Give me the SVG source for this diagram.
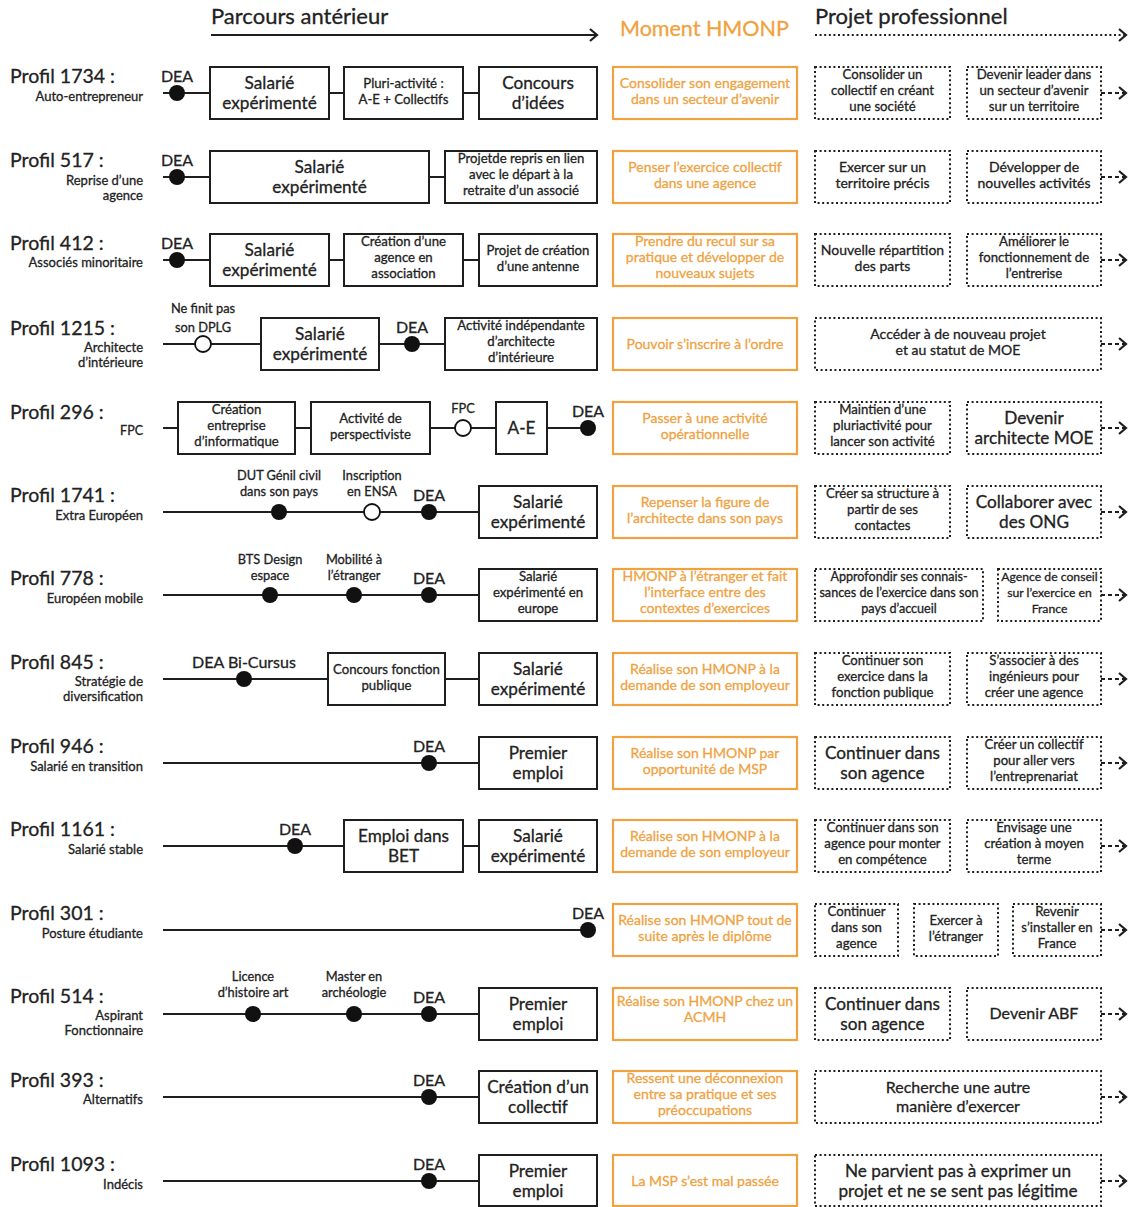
<svg xmlns="http://www.w3.org/2000/svg" width="1132" height="1207" viewBox="0 0 1132 1207">
<style>
text{font-family:Lato,'Liberation Sans',Arial,sans-serif;fill:#222;stroke:#222;stroke-width:0.3}
.hd{font-size:22px}
.hm{font-size:21.5px;fill:#EFA23F;stroke:#EFA23F}
.pl{font-size:19.5px}
.sb{font-size:13px;text-anchor:end}
.b17{font-size:17.2px;text-anchor:middle}
.b13{font-size:13.2px;text-anchor:middle}
.b14{font-size:14px;text-anchor:middle}
.b16{font-size:16px;text-anchor:middle}
.o14{font-size:14px;text-anchor:middle;fill:#EFA23F;stroke:#EFA23F}
.lb{font-size:12.8px;text-anchor:middle}
.dea{font-size:16px;text-anchor:middle}
.box{fill:#fff;stroke:#1e1e1e;stroke-width:2}
.obox{fill:#fff;stroke:#EFA23F;stroke-width:2.2}
.dbox{fill:none;stroke:#1e1e1e;stroke-width:2;stroke-dasharray:2 2.6}
.ln{stroke:#1e1e1e;stroke-width:2;fill:none}
.dl{stroke:#1e1e1e;stroke-width:2;stroke-dasharray:2 2.6;fill:none}
.da{stroke:#1e1e1e;stroke-width:2;stroke-dasharray:4 3;fill:none}
.fd{fill:#111}
.od{fill:#fff;stroke:#111;stroke-width:1.8}
</style>
<defs>
<marker id="chev" markerWidth="12" markerHeight="14" refX="9" refY="7" orient="auto" markerUnits="userSpaceOnUse"><path d="M2,1 L9,7 L2,13" fill="none" stroke="#1e1e1e" stroke-width="2.2"/></marker>
</defs>
<rect width="1132" height="1207" fill="#fff"/>

<g id="header">
<text class="hd" x="211" y="24">Parcours antérieur</text>
<line class="ln" x1="211" y1="35" x2="597" y2="35" marker-end="url(#chev)"/>
<text class="hm" x="620" y="36">Moment HMONP</text>
<text class="hd" x="815" y="24">Projet professionnel</text>
<line class="dl" x1="815" y1="35" x2="1126" y2="35" marker-end="url(#chev)"/>
</g>

<g id="connectors">
<line class="ln" x1="163" y1="93" x2="210" y2="93"/>
<line class="ln" x1="329" y1="93" x2="344" y2="93"/>
<line class="ln" x1="463" y1="93" x2="479" y2="93"/>
<line class="da" x1="1101" y1="93" x2="1126" y2="93" marker-end="url(#chev)"/>
<line class="ln" x1="163" y1="177" x2="210" y2="177"/>
<line class="ln" x1="429" y1="177" x2="445" y2="177"/>
<line class="da" x1="1101" y1="177" x2="1126" y2="177" marker-end="url(#chev)"/>
<line class="ln" x1="163" y1="260" x2="210" y2="260"/>
<line class="ln" x1="329" y1="260" x2="344" y2="260"/>
<line class="ln" x1="463" y1="260" x2="479" y2="260"/>
<line class="da" x1="1101" y1="260" x2="1126" y2="260" marker-end="url(#chev)"/>
<line class="ln" x1="163" y1="344" x2="261" y2="344"/>
<line class="ln" x1="379" y1="344" x2="445" y2="344"/>
<line class="da" x1="1101" y1="344" x2="1126" y2="344" marker-end="url(#chev)"/>
<line class="ln" x1="163" y1="428" x2="178" y2="428"/>
<line class="ln" x1="295" y1="428" x2="311" y2="428"/>
<line class="ln" x1="430" y1="428" x2="496" y2="428"/>
<line class="ln" x1="547" y1="428" x2="588" y2="428"/>
<line class="da" x1="1101" y1="428" x2="1126" y2="428" marker-end="url(#chev)"/>
<line class="ln" x1="163" y1="512" x2="479" y2="512"/>
<line class="da" x1="1101" y1="512" x2="1126" y2="512" marker-end="url(#chev)"/>
<line class="ln" x1="163" y1="595" x2="479" y2="595"/>
<line class="da" x1="1101" y1="595" x2="1126" y2="595" marker-end="url(#chev)"/>
<line class="ln" x1="163" y1="679" x2="328" y2="679"/>
<line class="ln" x1="445" y1="679" x2="479" y2="679"/>
<line class="da" x1="1101" y1="679" x2="1126" y2="679" marker-end="url(#chev)"/>
<line class="ln" x1="163" y1="763" x2="479" y2="763"/>
<line class="da" x1="1101" y1="763" x2="1126" y2="763" marker-end="url(#chev)"/>
<line class="ln" x1="163" y1="846" x2="344" y2="846"/>
<line class="ln" x1="463" y1="846" x2="479" y2="846"/>
<line class="da" x1="1101" y1="846" x2="1126" y2="846" marker-end="url(#chev)"/>
<line class="ln" x1="163" y1="930" x2="588" y2="930"/>
<line class="da" x1="1101" y1="930" x2="1126" y2="930" marker-end="url(#chev)"/>
<line class="ln" x1="163" y1="1014" x2="479" y2="1014"/>
<line class="da" x1="1101" y1="1014" x2="1126" y2="1014" marker-end="url(#chev)"/>
<line class="ln" x1="163" y1="1097" x2="479" y2="1097"/>
<line class="da" x1="1101" y1="1097" x2="1126" y2="1097" marker-end="url(#chev)"/>
<line class="ln" x1="163" y1="1181" x2="479" y2="1181"/>
<line class="da" x1="1101" y1="1181" x2="1126" y2="1181" marker-end="url(#chev)"/>
</g>

<!-- ROW 1 -->
<g id="p1734-label"><text class="pl" x="10" y="83">Profil 1734 :</text><text class="sb" x="143" y="101">Auto-entrepreneur</text></g>
<g id="p1734-dea"><circle class="fd" cx="177" cy="93" r="8"/><text class="dea" x="177" y="82">DEA</text></g>
<g id="p1734-salarie"><rect class="box" x="210" y="67" width="119" height="52"/><text class="b17" x="269.5" y="89">Salarié</text><text class="b17" x="269.5" y="109">expérimenté</text></g>
<g id="p1734-pluri"><rect class="box" x="344" y="67" width="119" height="52"/><text class="b13" x="403.5" y="88">Pluri-activité :</text><text class="b13" x="403.5" y="104">A-E + Collectifs</text></g>
<g id="p1734-concours"><rect class="box" x="479" y="67" width="118" height="52"/><text class="b17" x="538" y="89">Concours</text><text class="b17" x="538" y="109">d’idées</text></g>
<g id="p1734-hmonp"><rect class="obox" x="613" y="67" width="184" height="52"/><text class="o14" x="705" y="88">Consolider son engagement</text><text class="o14" x="705" y="104">dans un secteur d’avenir</text></g>
<g id="p1734-proj1"><rect class="dbox" x="815" y="67" width="135" height="52"/><text class="b13" x="882.5" y="78.5">Consolider un</text><text class="b13" x="882.5" y="94.5">collectif en créant</text><text class="b13" x="882.5" y="110.5">une société</text></g>
<g id="p1734-proj2"><rect class="dbox" x="967" y="67" width="134" height="52"/><text class="b13" x="1034" y="78.5">Devenir leader dans</text><text class="b13" x="1034" y="94.5">un secteur d’avenir</text><text class="b13" x="1034" y="110.5">sur un territoire</text></g>

<!-- ROW 2 -->
<g id="p517-label"><text class="pl" x="10" y="167">Profil 517 :</text><text class="sb" x="143" y="185">Reprise d’une</text><text class="sb" x="143" y="200">agence</text></g>
<g id="p517-dea"><circle class="fd" cx="177" cy="177" r="8"/><text class="dea" x="177" y="166">DEA</text></g>
<g id="p517-salarie"><rect class="box" x="210" y="151" width="219" height="52"/><text class="b17" x="319.5" y="173">Salarié</text><text class="b17" x="319.5" y="193">expérimenté</text></g>
<g id="p517-reprise"><rect class="box" x="445" y="151" width="152" height="52"/><text class="b13" x="521" y="162.5">Projetde repris en lien</text><text class="b13" x="521" y="178.5">avec le départ à la</text><text class="b13" x="521" y="194.5">retraite d’un associé</text></g>
<g id="p517-hmonp"><rect class="obox" x="613" y="151" width="184" height="52"/><text class="o14" x="705" y="172">Penser l’exercice collectif</text><text class="o14" x="705" y="188">dans une agence</text></g>
<g id="p517-proj1"><rect class="dbox" x="815" y="151" width="135" height="52"/><text class="b14" x="882.5" y="172">Exercer sur un</text><text class="b14" x="882.5" y="188">territoire précis</text></g>
<g id="p517-proj2"><rect class="dbox" x="967" y="151" width="134" height="52"/><text class="b14" x="1034" y="172">Développer de</text><text class="b14" x="1034" y="188">nouvelles activités</text></g>

<!-- ROW 3 -->
<g id="p412-label"><text class="pl" x="10" y="250">Profil 412 :</text><text class="sb" x="143" y="267">Associés minoritaire</text></g>
<g id="p412-dea"><circle class="fd" cx="177" cy="260" r="8"/><text class="dea" x="177" y="249">DEA</text></g>
<g id="p412-salarie"><rect class="box" x="210" y="234" width="119" height="52"/><text class="b17" x="269.5" y="256">Salarié</text><text class="b17" x="269.5" y="276">expérimenté</text></g>
<g id="p412-creation"><rect class="box" x="344" y="234" width="119" height="52"/><text class="b13" x="403.5" y="245.5">Création d’une</text><text class="b13" x="403.5" y="261.5">agence en</text><text class="b13" x="403.5" y="277.5">association</text></g>
<g id="p412-antenne"><rect class="box" x="479" y="234" width="118" height="52"/><text class="b13" x="538" y="255">Projet de création</text><text class="b13" x="538" y="271">d’une antenne</text></g>
<g id="p412-hmonp"><rect class="obox" x="613" y="234" width="184" height="52"/><text class="o14" x="705" y="245.5">Prendre du recul sur sa</text><text class="o14" x="705" y="261.5">pratique et développer de</text><text class="o14" x="705" y="277.5">nouveaux sujets</text></g>
<g id="p412-proj1"><rect class="dbox" x="815" y="234" width="135" height="52"/><text class="b14" x="882.5" y="255">Nouvelle répartition</text><text class="b14" x="882.5" y="271">des parts</text></g>
<g id="p412-proj2"><rect class="dbox" x="967" y="234" width="134" height="52"/><text class="b13" x="1034" y="245.5">Améliorer le</text><text class="b13" x="1034" y="261.5">fonctionnement de</text><text class="b13" x="1034" y="277.5">l’entrerise</text></g>

<!-- ROW 4 -->
<g id="p1215-label"><text class="pl" x="10" y="335">Profil 1215 :</text><text class="sb" x="143" y="352">Architecte</text><text class="sb" x="143" y="367">d’intérieure</text></g>
<g id="p1215-dplg"><circle class="od" cx="203" cy="344" r="8"/><text class="lb" x="203" y="313">Ne finit pas</text><text class="lb" x="203" y="332">son DPLG</text></g>
<g id="p1215-salarie"><rect class="box" x="261" y="318" width="118" height="52"/><text class="b17" x="320" y="340">Salarié</text><text class="b17" x="320" y="360">expérimenté</text></g>
<g id="p1215-dea"><circle class="fd" cx="412" cy="344" r="8"/><text class="dea" x="412" y="333">DEA</text></g>
<g id="p1215-activite"><rect class="box" x="445" y="318" width="152" height="52"/><text class="b13" x="521" y="329.5">Activité indépendante</text><text class="b13" x="521" y="345.5">d’architecte</text><text class="b13" x="521" y="361.5">d’intérieure</text></g>
<g id="p1215-hmonp"><rect class="obox" x="613" y="318" width="184" height="52"/><text class="o14" x="705" y="349">Pouvoir s’inscrire à l’ordre</text></g>
<g id="p1215-proj1"><rect class="dbox" x="815" y="318" width="286" height="52"/><text class="b14" x="958" y="339">Accéder à de nouveau projet</text><text class="b14" x="958" y="355">et au statut de MOE</text></g>

<!-- ROW 5 -->
<g id="p296-label"><text class="pl" x="10" y="419">Profil 296 :</text><text class="sb" x="143" y="435" style="font-size:12.5px">FPC</text></g>
<g id="p296-creation"><rect class="box" x="178" y="402" width="117" height="52"/><text class="b13" x="236.5" y="413.5">Création</text><text class="b13" x="236.5" y="429.5">entreprise</text><text class="b13" x="236.5" y="445.5">d’informatique</text></g>
<g id="p296-perspectiviste"><rect class="box" x="311" y="402" width="119" height="52"/><text class="b13" x="370.5" y="423">Activité de</text><text class="b13" x="370.5" y="439">perspectiviste</text></g>
<g id="p296-fpc"><circle class="od" cx="463" cy="428" r="8"/><text class="lb" x="463" y="413">FPC</text></g>
<g id="p296-ae"><rect class="box" x="496" y="402" width="51" height="52"/><text class="b17" x="521.5" y="434">A-E</text></g>
<g id="p296-dea"><circle class="fd" cx="588" cy="428" r="8"/><text class="dea" x="588" y="417">DEA</text></g>
<g id="p296-hmonp"><rect class="obox" x="613" y="402" width="184" height="52"/><text class="o14" x="705" y="423">Passer à une activité</text><text class="o14" x="705" y="439">opérationnelle</text></g>
<g id="p296-proj1"><rect class="dbox" x="815" y="402" width="135" height="52"/><text class="b13" x="882.5" y="413.5">Maintien d’une</text><text class="b13" x="882.5" y="429.5">pluriactivité pour</text><text class="b13" x="882.5" y="445.5">lancer son activité</text></g>
<g id="p296-proj2"><rect class="dbox" x="967" y="402" width="134" height="52"/><text class="b17" x="1034" y="424">Devenir</text><text class="b17" x="1034" y="444">architecte MOE</text></g>

<!-- ROW 6 -->
<g id="p1741-label"><text class="pl" x="10" y="502">Profil 1741 :</text><text class="sb" x="143" y="520">Extra Européen</text></g>
<g id="p1741-dut"><circle class="fd" cx="279" cy="512" r="8"/><text class="lb" x="279" y="480">DUT Génil civil</text><text class="lb" x="279" y="496">dans son pays</text></g>
<g id="p1741-ensa"><circle class="od" cx="372" cy="512" r="8"/><text class="lb" x="372" y="480">Inscription</text><text class="lb" x="372" y="496">en ENSA</text></g>
<g id="p1741-dea"><circle class="fd" cx="429" cy="512" r="8"/><text class="dea" x="429" y="501">DEA</text></g>
<g id="p1741-salarie"><rect class="box" x="479" y="486" width="118" height="52"/><text class="b17" x="538" y="508">Salarié</text><text class="b17" x="538" y="528">expérimenté</text></g>
<g id="p1741-hmonp"><rect class="obox" x="613" y="486" width="184" height="52"/><text class="o14" x="705" y="507">Repenser la figure de</text><text class="o14" x="705" y="523">l’architecte dans son pays</text></g>
<g id="p1741-proj1"><rect class="dbox" x="815" y="486" width="135" height="52"/><text class="b13" x="882.5" y="497.5">Créer sa structure à</text><text class="b13" x="882.5" y="513.5">partir de ses</text><text class="b13" x="882.5" y="529.5">contactes</text></g>
<g id="p1741-proj2"><rect class="dbox" x="967" y="486" width="134" height="52"/><text class="b17" x="1034" y="508">Collaborer avec</text><text class="b17" x="1034" y="528">des ONG</text></g>

<!-- ROW 7 -->
<g id="p778-label"><text class="pl" x="10" y="585">Profil 778 :</text><text class="sb" x="143" y="603">Européen mobile</text></g>
<g id="p778-bts"><circle class="fd" cx="270" cy="595" r="8"/><text class="lb" x="270" y="564">BTS Design</text><text class="lb" x="270" y="580">espace</text></g>
<g id="p778-mobilite"><circle class="fd" cx="354" cy="595" r="8"/><text class="lb" x="354" y="564">Mobilité à</text><text class="lb" x="354" y="580">l’étranger</text></g>
<g id="p778-dea"><circle class="fd" cx="429" cy="595" r="8"/><text class="dea" x="429" y="584">DEA</text></g>
<g id="p778-salarie"><rect class="box" x="479" y="569" width="118" height="52"/><text class="b13" x="538" y="580.5">Salarié</text><text class="b13" x="538" y="596.5">expérimenté en</text><text class="b13" x="538" y="612.5">europe</text></g>
<g id="p778-hmonp"><rect class="obox" x="613" y="569" width="184" height="52"/><text class="o14" x="705" y="580.5">HMONP à l’étranger et fait</text><text class="o14" x="705" y="596.5">l’interface entre des</text><text class="o14" x="705" y="612.5">contextes d’exercices</text></g>
<g id="p778-proj1"><rect class="dbox" x="815" y="569" width="168" height="52"/><text class="b13" x="899" y="580.5" style="font-size:12.6px">Approfondir ses connais-</text><text class="b13" x="899" y="596.5" style="font-size:12.6px">sances de l’exercice dans son</text><text class="b13" x="899" y="612.5" style="font-size:12.6px">pays d’accueil</text></g>
<g id="p778-proj2"><rect class="dbox" x="998" y="569" width="103" height="52"/><text class="b13" x="1049.5" y="580.5" style="font-size:12.2px">Agence de conseil</text><text class="b13" x="1049.5" y="596.5" style="font-size:12.2px">sur l’exercice en</text><text class="b13" x="1049.5" y="612.5" style="font-size:12.2px">France</text></g>

<!-- ROW 8 -->
<g id="p845-label"><text class="pl" x="10" y="669">Profil 845 :</text><text class="sb" x="143" y="686">Stratégie de</text><text class="sb" x="143" y="701">diversification</text></g>
<g id="p845-dea"><circle class="fd" cx="244" cy="679" r="8"/><text class="dea" x="244" y="668">DEA Bi-Cursus</text></g>
<g id="p845-concours"><rect class="box" x="328" y="653" width="117" height="52"/><text class="b13" x="386.5" y="674">Concours fonction</text><text class="b13" x="386.5" y="690">publique</text></g>
<g id="p845-salarie"><rect class="box" x="479" y="653" width="118" height="52"/><text class="b17" x="538" y="675">Salarié</text><text class="b17" x="538" y="695">expérimenté</text></g>
<g id="p845-hmonp"><rect class="obox" x="613" y="653" width="184" height="52"/><text class="o14" x="705" y="674">Réalise son HMONP à la</text><text class="o14" x="705" y="690">demande de son employeur</text></g>
<g id="p845-proj1"><rect class="dbox" x="815" y="653" width="135" height="52"/><text class="b13" x="882.5" y="664.5">Continuer son</text><text class="b13" x="882.5" y="680.5">exercice dans la</text><text class="b13" x="882.5" y="696.5">fonction publique</text></g>
<g id="p845-proj2"><rect class="dbox" x="967" y="653" width="134" height="52"/><text class="b13" x="1034" y="664.5">S’associer à des</text><text class="b13" x="1034" y="680.5">ingénieurs pour</text><text class="b13" x="1034" y="696.5">créer une agence</text></g>

<!-- ROW 9 -->
<g id="p946-label"><text class="pl" x="10" y="753">Profil 946 :</text><text class="sb" x="143" y="771">Salarié en transition</text></g>
<g id="p946-dea"><circle class="fd" cx="429" cy="763" r="8"/><text class="dea" x="429" y="752">DEA</text></g>
<g id="p946-emploi"><rect class="box" x="479" y="737" width="118" height="52"/><text class="b17" x="538" y="759">Premier</text><text class="b17" x="538" y="779">emploi</text></g>
<g id="p946-hmonp"><rect class="obox" x="613" y="737" width="184" height="52"/><text class="o14" x="705" y="758">Réalise son HMONP par</text><text class="o14" x="705" y="774">opportunité de MSP</text></g>
<g id="p946-proj1"><rect class="dbox" x="815" y="737" width="135" height="52"/><text class="b17" x="882.5" y="759">Continuer dans</text><text class="b17" x="882.5" y="779">son agence</text></g>
<g id="p946-proj2"><rect class="dbox" x="967" y="737" width="134" height="52"/><text class="b13" x="1034" y="748.5">Créer un collectif</text><text class="b13" x="1034" y="764.5">pour aller vers</text><text class="b13" x="1034" y="780.5">l’entreprenariat</text></g>

<!-- ROW 10 -->
<g id="p1161-label"><text class="pl" x="10" y="836">Profil 1161 :</text><text class="sb" x="143" y="854">Salarié stable</text></g>
<g id="p1161-dea"><circle class="fd" cx="295" cy="846" r="8"/><text class="dea" x="295" y="835">DEA</text></g>
<g id="p1161-bet"><rect class="box" x="344" y="820" width="119" height="52"/><text class="b17" x="403.5" y="842">Emploi dans</text><text class="b17" x="403.5" y="862">BET</text></g>
<g id="p1161-salarie"><rect class="box" x="479" y="820" width="118" height="52"/><text class="b17" x="538" y="842">Salarié</text><text class="b17" x="538" y="862">expérimenté</text></g>
<g id="p1161-hmonp"><rect class="obox" x="613" y="820" width="184" height="52"/><text class="o14" x="705" y="841">Réalise son HMONP à la</text><text class="o14" x="705" y="857">demande de son employeur</text></g>
<g id="p1161-proj1"><rect class="dbox" x="815" y="820" width="135" height="52"/><text class="b13" x="882.5" y="831.5">Continuer dans son</text><text class="b13" x="882.5" y="847.5">agence pour monter</text><text class="b13" x="882.5" y="863.5">en compétence</text></g>
<g id="p1161-proj2"><rect class="dbox" x="967" y="820" width="134" height="52"/><text class="b13" x="1034" y="831.5">Envisage une</text><text class="b13" x="1034" y="847.5">création à moyen</text><text class="b13" x="1034" y="863.5">terme</text></g>

<!-- ROW 11 -->
<g id="p301-label"><text class="pl" x="10" y="920">Profil 301 :</text><text class="sb" x="143" y="938">Posture étudiante</text></g>
<g id="p301-dea"><circle class="fd" cx="588" cy="930" r="8"/><text class="dea" x="588" y="919">DEA</text></g>
<g id="p301-hmonp"><rect class="obox" x="613" y="904" width="184" height="52"/><text class="o14" x="705" y="925">Réalise son HMONP tout de</text><text class="o14" x="705" y="941">suite après le diplôme</text></g>
<g id="p301-proj1"><rect class="dbox" x="815" y="904" width="83" height="52"/><text class="b13" x="856.5" y="915.5">Continuer</text><text class="b13" x="856.5" y="931.5">dans son</text><text class="b13" x="856.5" y="947.5">agence</text></g>
<g id="p301-proj2"><rect class="dbox" x="914" y="904" width="84" height="52"/><text class="b13" x="956" y="925">Exercer à</text><text class="b13" x="956" y="941">l’étranger</text></g>
<g id="p301-proj3"><rect class="dbox" x="1013" y="904" width="88" height="52"/><text class="b13" x="1057" y="915.5">Revenir</text><text class="b13" x="1057" y="931.5">s’installer en</text><text class="b13" x="1057" y="947.5">France</text></g>

<!-- ROW 12 -->
<g id="p514-label"><text class="pl" x="10" y="1003">Profil 514 :</text><text class="sb" x="143" y="1020">Aspirant</text><text class="sb" x="143" y="1035">Fonctionnaire</text></g>
<g id="p514-licence"><circle class="fd" cx="253" cy="1014" r="8"/><text class="lb" x="253" y="981">Licence</text><text class="lb" x="253" y="997">d’histoire art</text></g>
<g id="p514-master"><circle class="fd" cx="354" cy="1014" r="8"/><text class="lb" x="354" y="981">Master en</text><text class="lb" x="354" y="997">archéologie</text></g>
<g id="p514-dea"><circle class="fd" cx="429" cy="1014" r="8"/><text class="dea" x="429" y="1003">DEA</text></g>
<g id="p514-emploi"><rect class="box" x="479" y="988" width="118" height="52"/><text class="b17" x="538" y="1010">Premier</text><text class="b17" x="538" y="1030">emploi</text></g>
<g id="p514-hmonp"><rect class="obox" x="613" y="988" width="184" height="52"/><text class="o14" x="705" y="1006">Réalise son HMONP chez un</text><text class="o14" x="705" y="1022">ACMH</text></g>
<g id="p514-proj1"><rect class="dbox" x="815" y="988" width="135" height="52"/><text class="b17" x="882.5" y="1010">Continuer dans</text><text class="b17" x="882.5" y="1030">son agence</text></g>
<g id="p514-proj2"><rect class="dbox" x="967" y="988" width="134" height="52"/><text class="b16" x="1034" y="1019">Devenir ABF</text></g>

<!-- ROW 13 -->
<g id="p393-label"><text class="pl" x="10" y="1087">Profil 393 :</text><text class="sb" x="143" y="1104">Alternatifs</text></g>
<g id="p393-dea"><circle class="fd" cx="429" cy="1097" r="8"/><text class="dea" x="429" y="1086">DEA</text></g>
<g id="p393-collectif"><rect class="box" x="479" y="1071" width="118" height="52"/><text class="b17" x="538" y="1093">Création d’un</text><text class="b17" x="538" y="1113">collectif</text></g>
<g id="p393-hmonp"><rect class="obox" x="613" y="1071" width="184" height="52"/><text class="o14" x="705" y="1082.5">Ressent une déconnexion</text><text class="o14" x="705" y="1098.5">entre sa pratique et ses</text><text class="o14" x="705" y="1114.5">préoccupations</text></g>
<g id="p393-proj1"><rect class="dbox" x="815" y="1071" width="286" height="52"/><text class="b16" x="958" y="1093">Recherche une autre</text><text class="b16" x="958" y="1112">manière d’exercer</text></g>

<!-- ROW 14 -->
<g id="p1093-label"><text class="pl" x="10" y="1171">Profil 1093 :</text><text class="sb" x="143" y="1189">Indécis</text></g>
<g id="p1093-dea"><circle class="fd" cx="429" cy="1181" r="8"/><text class="dea" x="429" y="1170">DEA</text></g>
<g id="p1093-emploi"><rect class="box" x="479" y="1155" width="118" height="51"/><text class="b17" x="538" y="1177">Premier</text><text class="b17" x="538" y="1197">emploi</text></g>
<g id="p1093-hmonp"><rect class="obox" x="613" y="1155" width="184" height="51"/><text class="o14" x="705" y="1186">La MSP s’est mal passée</text></g>
<g id="p1093-proj1"><rect class="dbox" x="815" y="1155" width="286" height="51"/><text class="b17" x="958" y="1177">Ne parvient pas à exprimer un</text><text class="b17" x="958" y="1197">projet et ne se sent pas légitime</text></g>
</svg>
